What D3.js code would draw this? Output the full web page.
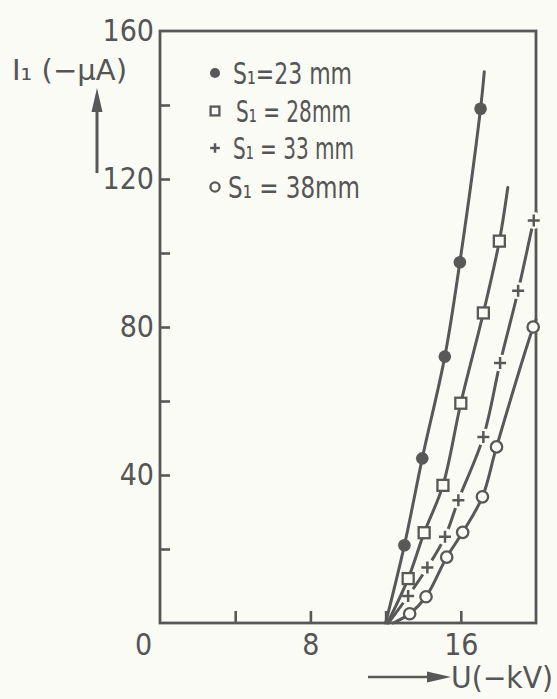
<!DOCTYPE html>
<html><head><meta charset="utf-8">
<script src="https://cdn.jsdelivr.net/npm/d3@7"></script>
<style>
body{margin:0;background:#fbfbf6;}
svg{display:block;font-family:"DejaVu Sans Condensed","DejaVu Sans",sans-serif;font-stretch:condensed;}
</style>
</head><body>
<svg id="c" width="557" height="699"></svg>
<script>
// ---- data ----
const xTicks = [0, 4, 8, 12, 16, 20];
const xTickLabels = [0, 8, 16];
const yTicks = [0, 20, 40, 60, 80, 100, 120, 140, 160];
const yTickLabels = [40, 80, 120, 160];

const seriesLabels = ["S₁=23 mm", "S₁ = 28mm", "S₁ = 33 mm", "S₁ = 38mm"];
const seriesSymbols = ["dot", "square", "plus", "circle"];

// measured points (U in -kV, I1 in -µA)
const s23 = [[13.0, 21], [13.95, 44.5], [15.15, 72], [15.95, 97.5], [17.05, 139]];
const s28 = [[13.2, 12], [14.05, 24.4], [15.05, 37.2], [16.0, 59.4], [17.2, 83.8], [18.05, 103.2]];
const s33 = [[13.2, 7.3], [14.22, 15], [15.16, 23.3], [15.87, 33.2], [17.2, 50.3], [18.09, 70.3], [19.05, 89.8], [19.88, 108.8]];
const s38 = [[13.28, 2.5], [14.15, 7.1], [15.25, 17.8], [16.1, 24.5], [17.15, 34.1], [17.9, 47.6], [19.85, 80]];
// fitted curve start / end points
const s23Ends = [[12.0, 0], [17.25, 149]];
const s28Ends = [[12.1, 0], [18.5, 117.7]];
const s33Ends = [[12.15, 0], [20.0, 111]];
const s38Ends = [[12.4, 0], [20.0, 82]];

const series = [
  {pts: s23, ends: s23Ends},
  {pts: s28, ends: s28Ends},
  {pts: s33, ends: s33Ends},
  {pts: s38, ends: s38Ends}
];

// ---- layout ----
const ink = "#585858", bg = "#fbfbf6", txt = "#555";
const L = 160, R = 536, T = 31, B = 623;
const svg = d3.select("#c");
svg.append("rect").attr("width", 557).attr("height", 699).attr("fill", bg);

const x = d3.scaleLinear().domain([0, 20]).range([L, R]);
const y = d3.scaleLinear().domain([0, 160]).range([B, T]);

// frame
svg.append("rect").attr("x", L).attr("y", T).attr("width", R - L).attr("height", B - T)
  .attr("fill", "none").attr("stroke", ink).attr("stroke-width", 2.8);

// axes
const xAxis = d3.axisBottom(x).tickValues(xTicks).tickSize(-12).tickSizeOuter(0).tickPadding(11)
  .tickFormat(d => xTickLabels.includes(d) ? d : "");
const gx = svg.append("g").attr("transform", `translate(0,${B})`).call(xAxis);
const yAxis = d3.axisLeft(y).tickValues(yTicks).tickSize(-10).tickSizeOuter(0).tickPadding(6)
  .tickFormat(d => yTickLabels.includes(d) ? d : "");
const gy = svg.append("g").attr("transform", `translate(${L},0)`).call(yAxis);
[gx, gy].forEach(g => {
  g.select(".domain").remove();
  g.selectAll(".tick line").attr("stroke", ink).attr("stroke-width", 2.6);
  g.selectAll(".tick text").attr("fill", txt).attr("font-size", 30)
    .attr("font-family", "DejaVu Sans Condensed, DejaVu Sans, sans-serif");
});
gx.selectAll(".tick").filter(d => d === 20 || d === 0).select("line").remove();
gx.selectAll(".tick").filter(d => d === 0).select("text").attr("dx", -17);
gy.selectAll(".tick").filter(d => d === 0 || d === 160).select("line").remove();

// curves
const line = d3.line().x(d => x(d[0])).y(d => y(d[1])).curve(d3.curveCatmullRom.alpha(0.5));
const plotG = svg.append("g");

function drawSymbol(g, kind, cx, cy, s) {
  if (kind === "dot") {
    g.append("circle").attr("cx", cx).attr("cy", cy).attr("r", 6.3 * s).attr("fill", ink);
  } else if (kind === "square") {
    const h = 5.5 * s;
    g.append("rect").attr("x", cx - h).attr("y", cy - h).attr("width", 2 * h).attr("height", 2 * h)
      .attr("fill", bg).attr("stroke", ink).attr("stroke-width", 2.3);
  } else if (kind === "plus") {
    const h = 6 * s;
    g.append("path").attr("d", `M${cx - h},${cy}H${cx + h}M${cx},${cy - h}V${cy + h}`)
      .attr("stroke", ink).attr("stroke-width", 2.5).attr("fill", "none");
  } else {
    g.append("circle").attr("cx", cx).attr("cy", cy).attr("r", 5.7 * s)
      .attr("fill", bg).attr("stroke", ink).attr("stroke-width", 2.3);
  }
}

// draw order: plus series first (with line gaps), then others
[2, 3, 1, 0].forEach(i => {
  const s = series[i];
  const g = plotG.append("g");
  const data = [s.ends[0], ...s.pts, s.ends[1]];
  g.append("path").attr("d", line(data)).attr("fill", "none").attr("stroke", ink)
    .attr("stroke-width", 3).attr("stroke-linecap", "round");
  if (seriesSymbols[i] === "plus") {
    s.pts.forEach(p => g.append("circle").attr("cx", x(p[0])).attr("cy", y(p[1])).attr("r", 8.5).attr("fill", bg));
  }
  s.pts.forEach(p => drawSymbol(g, seriesSymbols[i], x(p[0]), y(p[1]), 1));
});

// legend
const legRowsY = [73, 111, 148, 187];
const legTextX = [233, 236, 233, 228];
const legTextW = [119, 115, 121, 132];
const leg = svg.append("g");
seriesLabels.forEach((lab, i) => {
  drawSymbol(leg, seriesSymbols[i], 215, legRowsY[i], 0.8);
  leg.append("text").attr("x", legTextX[i]).attr("y", legRowsY[i] + 11)
    .attr("font-size", 31).attr("fill", txt)
    .attr("textLength", legTextW[i]).attr("lengthAdjust", "spacingAndGlyphs")
    .text(lab);
});

// y label + arrow
svg.append("text").attr("x", 12).attr("y", 80).attr("font-size", 28).attr("fill", txt)
  .attr("textLength", 115).attr("lengthAdjust", "spacingAndGlyphs").text("I₁ (−µA)");
svg.append("line").attr("x1", 97).attr("x2", 97).attr("y1", 173).attr("y2", 105)
  .attr("stroke", ink).attr("stroke-width", 3);
svg.append("path").attr("d", "M97,88L102.5,112L91.5,112Z").attr("fill", ink);

// x label + arrow
svg.append("text").attr("x", 451).attr("y", 688).attr("font-size", 30).attr("fill", txt)
  .attr("textLength", 102).attr("lengthAdjust", "spacingAndGlyphs").text("U(−kV)");
svg.append("line").attr("x1", 368).attr("x2", 435).attr("y1", 677).attr("y2", 677)
  .attr("stroke", ink).attr("stroke-width", 2.6);
svg.append("path").attr("d", "M451,677L427,671.5L427,682.5Z").attr("fill", ink);
</script>
</body></html>
